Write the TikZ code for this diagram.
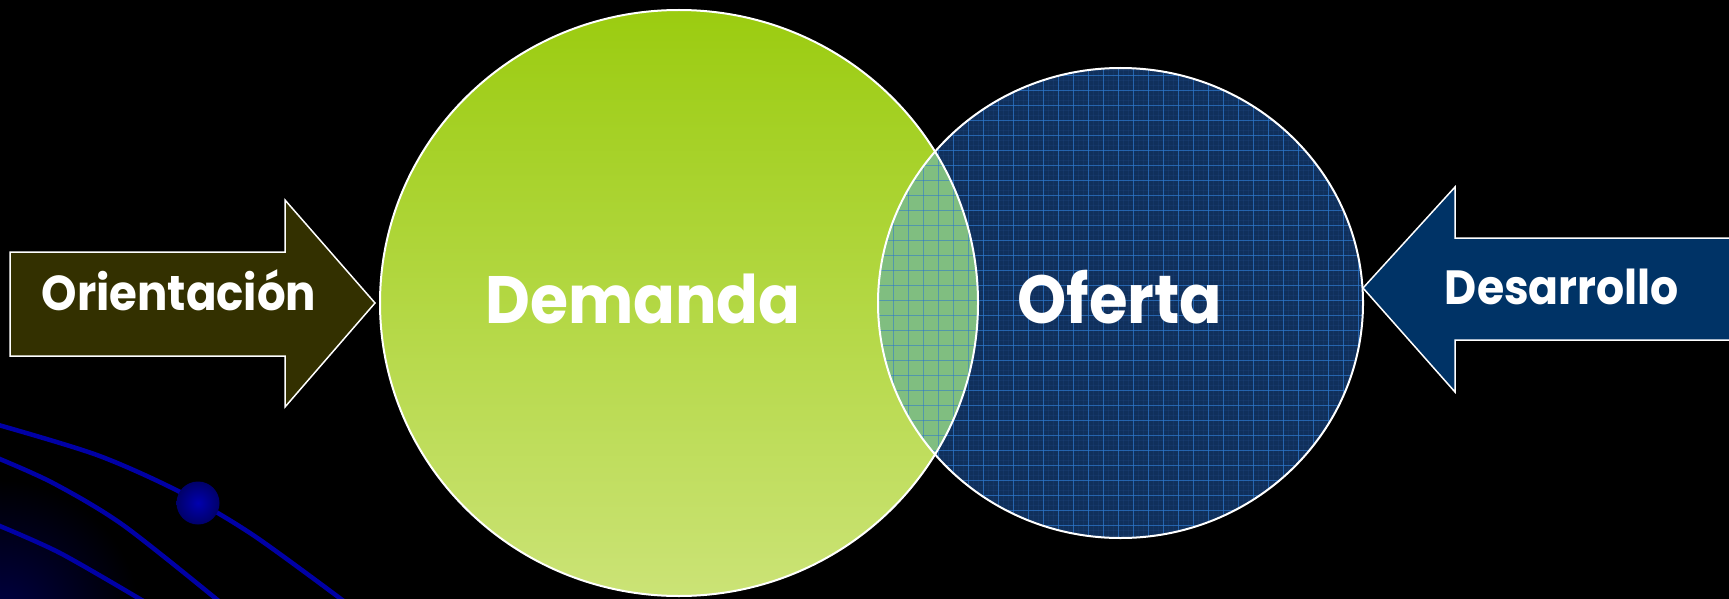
\documentclass[tikz,border=0pt]{standalone}
\usepackage{fontspec}
\usepackage{graphicx}
\newfontfamily\lblfont{Poppins}
\definecolor{greentop}{RGB}{155,204,16}
\definecolor{greenbot}{RGB}{203,227,118}
\definecolor{navy}{RGB}{16,48,92}
\definecolor{gridblue}{RGB}{45,120,205}
\definecolor{finegrid}{RGB}{40,85,150}
\definecolor{lensfill}{RGB}{128,190,128}
\definecolor{olive}{RGB}{51,48,0}
\definecolor{arrowblue}{RGB}{0,51,102}
\definecolor{deco}{RGB}{0,0,165}
\newcommand{\narrow}[1]{\scalebox{0.92}[1]{#1}}
\tikzset{
  outline/.style={draw=white, line width=2pt},
  lbl/.style={text=white, font=\lblfont\bfseries, anchor=base, inner sep=0pt},
  gridline/.style={draw=gridblue, line width=0.9pt, opacity=0.7},
  fineline/.style={draw=finegrid, line width=0.5pt, opacity=0.18},
  decoline/.style={draw=deco, line width=4.5pt, line cap=round},
}
\begin{document}
\begin{tikzpicture}[x=1pt, y=-1pt]
\useasboundingbox (0,0) rectangle (1729,599);
\fill[black] (0,0) rectangle (1729,599);
% corner glow and decorative curves
\begin{scope}
\clip (0,0) rectangle (1729,599);
\shade[inner color={rgb,255:red,0;green,0;blue,70}, outer color=black] (0,620) circle [radius=140pt];
\draw[decoline] plot[smooth, tension=0.5] coordinates {(-5,424) (97,455) (180,492) (253,535) (345,602)};
\draw[decoline] plot[smooth, tension=0.5] coordinates {(-5,457) (53,483) (123,525) (220,602)};
\draw[decoline] plot[smooth, tension=0.5] coordinates {(-5,524) (60,553) (145,602)};
\node[coordinate] (ball) at (198,503) {};
\shade[inner color={rgb,255:red,0;green,0;blue,175}, outer color={rgb,255:red,0;green,0;blue,105}] (ball) circle [radius=21.5pt];
\end{scope}
% blue circle with grid
\node[coordinate] (oc) at (1120.5,303) {};
\node[coordinate] (dc) at (679,303) {};
\fill[navy] (oc) ellipse [x radius=242.5pt, y radius=235pt];
\begin{scope}
\clip (oc) ellipse [x radius=242.5pt, y radius=235pt];
\foreach \gx in {873,878,...,1368} \draw[fineline] (\gx,60) -- (\gx,545);
\foreach \gy in {60,65,...,545} \draw[fineline] (870,\gy) -- (1370,\gy);
\foreach \gx in {878,893,...,1373} \draw[gridline] (\gx,60) -- (\gx,545);
\foreach \gy in {60,75,...,540} \draw[gridline] (870,\gy) -- (1370,\gy);
\end{scope}
% green circle
\shade[top color=greentop, bottom color=greenbot] (dc) ellipse [x radius=299pt, y radius=293pt];
% lens
\begin{scope}
\clip (dc) ellipse [x radius=299pt, y radius=293pt];
\fill[lensfill] (oc) ellipse [x radius=242.5pt, y radius=235pt];
\clip (oc) ellipse [x radius=242.5pt, y radius=235pt];
\foreach \gx in {878,893,...,1373} \draw[gridline, opacity=0.55] (\gx,60) -- (\gx,545);
\foreach \gy in {60,75,...,540} \draw[gridline, opacity=0.55] (870,\gy) -- (1370,\gy);
\end{scope}
\draw[outline] (dc) ellipse [x radius=299pt, y radius=293pt];
\draw[outline] (oc) ellipse [x radius=242.5pt, y radius=235pt];
% arrows
\node[coordinate] (ltip) at (375,303) {};
\node[coordinate] (rtip) at (1363,288) {};
\draw[outline, line width=1.5pt, fill=olive, line join=miter]
  (10,252) -- (285,252) -- (285,200) -- (ltip) -- (285,407) -- (285,356) -- (10,356) -- cycle;
\draw[outline, line width=1.5pt, fill=arrowblue, line join=miter]
  (1740,238) -- (1455,238) -- (1455,187) -- (rtip) -- (1455,392) -- (1455,340) -- (1740,340);
\fill[arrowblue] (1700,239) rectangle (1740,339);
% labels
\node[lbl, font=\lblfont\bfseries\fontsize{67}{70}\selectfont] (dem) at (643,323) {\narrow{Demanda}};
\node[lbl, font=\lblfont\bfseries\fontsize{68}{70}\selectfont] (ofe) at (1120,323) {\narrow{Oferta}};
\node[lbl, font=\lblfont\bfseries\fontsize{49}{52}\selectfont] (ori) at (179,310) {\narrow{Orientación}};
\node[lbl, font=\lblfont\bfseries\fontsize{48}{52}\selectfont] (des) at (1562,304) {\narrow{Desarrollo}};
\end{tikzpicture}
\end{document}
